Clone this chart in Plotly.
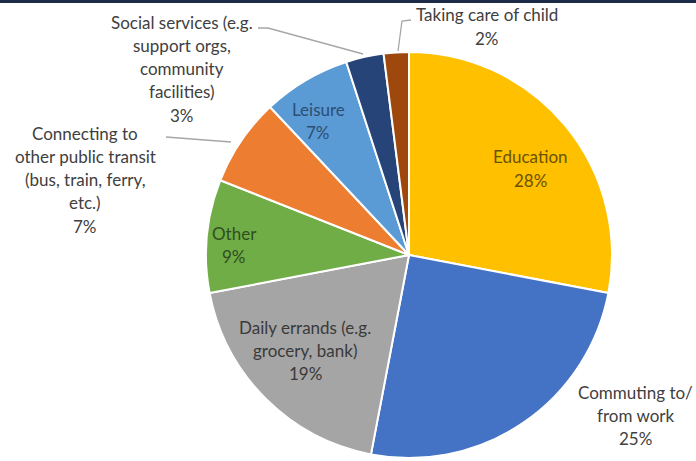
import plotly.graph_objects as go

# ---- data ----
categories = [
    "Education",
    "Commuting to/ from work",
    "Daily errands (e.g. grocery, bank)",
    "Other",
    "Connecting to other public transit (bus, train, ferry, etc.)",
    "Leisure",
    "Social services (e.g. support orgs, community facilities)",
    "Taking care of child",
]
values = [28, 25, 19, 9, 7, 7, 3, 2]
label_lines = [
    ["Education"],
    ["Commuting to/", "from work"],
    ["Daily errands (e.g.", "grocery, bank)"],
    ["Other"],
    ["Connecting to", "other public transit", "(bus, train, ferry,", "etc.)"],
    ["Leisure"],
    ["Social services (e.g.", "support orgs,", "community", "facilities)"],
    ["Taking care of child"],
]
colors = ["#FFC000", "#4472C4", "#A5A5A5", "#70AD47", "#ED7D31", "#5B9BD5", "#264478", "#9E480E"]

# ---- layout helpers (pixel -> paper) ----
W, H = 696, 461
def px(x):
    return x / W
def py(y):
    return 1 - y / H

CX, CY, R = 409, 255, 203

# label placement: (center x, first-line y, text colour)
label_pos = [
    (530, 157, "#6B5200"),
    (635, 392, "#404040"),
    (305, 327, "#3A3A3A"),
    (234, 233, "#2F4F1E"),
    (85, 133, "#404040"),
    (318, 109, "#2C4E74"),
    (182, 22, "#404040"),
    (487, 15, "#404040"),
]
LINE_H = 23.3

fig = go.Figure(go.Pie(
    labels=categories,
    values=values,
    sort=False,
    direction="clockwise",
    rotation=0,
    marker=dict(colors=colors, line=dict(color="white", width=2)),
    textinfo="none",
    hoverinfo="label+percent",
    showlegend=False,
    domain=dict(x=[px(CX - R), px(CX + R)], y=[py(CY + R), py(CY - R)]),
))

total = sum(values)
annotations = []
for lines, v, (lx, ly, col) in zip(label_lines, values, label_pos):
    pct = f"{round(100 * v / total)}%"
    for i, t in enumerate(lines + [pct]):
        annotations.append(dict(
            x=px(lx), y=py(ly + i * LINE_H), xref="paper", yref="paper",
            text=t, showarrow=False, xanchor="center", yanchor="middle",
            font=dict(family="Lato", size=17, color=col),
        ))

leaders = [
    [(398, 51), (402, 21), (411, 20)],
    [(258, 28), (268, 28), (363, 54)],
    [(166, 137), (231, 142)],
]
shapes = [dict(type="rect", xref="paper", yref="paper", x0=0, x1=1, y0=py(3), y1=1,
               fillcolor="#1C2B47", line=dict(width=0), layer="above")]
for pts in leaders:
    path = "M " + " L ".join(f"{px(x)},{py(y)}" for x, y in pts)
    shapes.append(dict(type="path", xref="paper", yref="paper", path=path,
                       line=dict(color="#A6A6A6", width=1.3)))

fig.update_layout(
    width=W, height=H,
    margin=dict(l=0, r=0, t=0, b=0),
    paper_bgcolor="white", plot_bgcolor="white",
    annotations=annotations, shapes=shapes,
)
fig.write_html("out.html")
